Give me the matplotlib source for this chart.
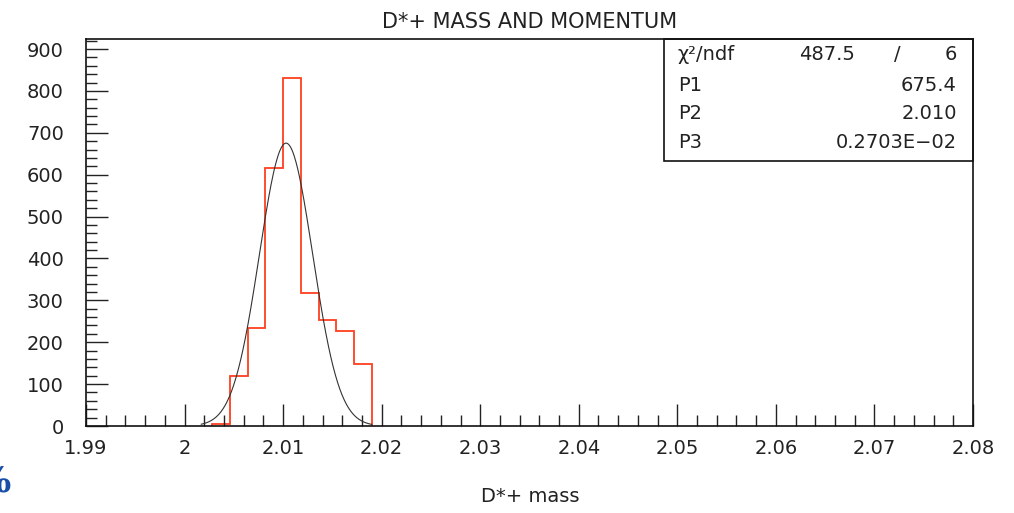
import numpy as np
import matplotlib.pyplot as plt
from matplotlib.patches import Rectangle
from matplotlib.ticker import MultipleLocator

# histogram
bin_edges = [2.0028, 2.0046, 2.0064, 2.0082, 2.0100, 2.0118, 2.0136, 2.0154, 2.0172, 2.0190]
counts = [4, 119, 233, 617, 832, 318, 252, 228, 147]

# gaussian fit parameters (stats box)
p1, p2, p3 = 675.4, 2.0103, 0.002703
fit_range = [2.0017, 2.0190]

xticks = [1.99, 2.0, 2.01, 2.02, 2.03, 2.04, 2.05, 2.06, 2.07, 2.08]
xtick_labels = ["1.99", "2", "2.01", "2.02", "2.03", "2.04", "2.05", "2.06", "2.07", "2.08"]
yticks = [0, 100, 200, 300, 400, 500, 600, 700, 800, 900]

stats_names = ["P1", "P2", "P3"]
stats_values = ["675.4", "2.010", "0.2703E\u221202"]

fig = plt.figure(figsize=(10.14, 5.13), dpi=100)
ax = fig.add_axes([86 / 1014, 87 / 513, 887 / 1014, 387 / 513])

ax.stairs(counts, bin_edges, color="#ff4020", linewidth=1.3)

xf = np.linspace(fit_range[0], fit_range[1], 300)
ax.plot(xf, p1 * np.exp(-0.5 * ((xf - p2) / p3) ** 2), color="#333333", linewidth=0.8)

ax.set_xlim(1.99, 2.08)
ax.set_ylim(0, 924)
ax.set_xticks(xticks)
ax.set_xticklabels(xtick_labels)
ax.set_yticks(yticks)
ax.xaxis.set_minor_locator(MultipleLocator(0.002))
ax.yaxis.set_minor_locator(MultipleLocator(20))
ax.tick_params(which="both", direction="in", top=False, right=False, width=1, colors="#222222")
ax.tick_params(which="major", length=16, labelsize=14)
ax.tick_params(which="minor", length=8)
ax.tick_params(axis="x", pad=9)
ax.tick_params(axis="y", pad=16)
for s in ax.spines.values():
    s.set_linewidth(1.2)
    s.set_color("#111111")

ax.set_title("D*+ MASS AND MOMENTUM", fontsize=15, pad=8, color="#222222")
fig.text(530 / 1014, 1 - 497 / 513, "D*+ mass", fontsize=14, ha="center", va="center", color="#222222")

# stats box
x0 = (664 - 86) / 887
y0 = (426 - 161) / 387
ax.add_patch(Rectangle((x0, y0), 1 - x0, 1 - y0, transform=ax.transAxes,
                       fill=False, edgecolor="#111111", linewidth=1.2, clip_on=False))
rows_y = [(426 - y) / 387 for y in [55, 86, 114, 143]]
tx_left = (678 - 86) / 887
tx_right = (957 - 86) / 887
ax.text(tx_left, rows_y[0], "\u03c7\u00b2/ndf", transform=ax.transAxes, fontsize=14, va="center", color="#222222")
ax.text((827 - 86) / 887, rows_y[0], "487.5", transform=ax.transAxes, fontsize=14, va="center", ha="center", color="#222222")
ax.text((897 - 86) / 887, rows_y[0], "/", transform=ax.transAxes, fontsize=14, va="center", ha="center", color="#222222")
ax.text(tx_right, rows_y[0], "6", transform=ax.transAxes, fontsize=14, va="center", ha="right", color="#222222")
for name, val, yy in zip(stats_names, stats_values, rows_y[1:]):
    ax.text(tx_left, yy, name, transform=ax.transAxes, fontsize=14, va="center", color="#222222")
    ax.text(tx_right, yy, val, transform=ax.transAxes, fontsize=14, va="center", ha="right", color="#222222")

# clipped blue glyph at the bottom-left edge (cut off in the reference too)
fig.text(10 / 1014, 1 - 492 / 513, "%", fontsize=26, family="DejaVu Serif", weight="bold",
         color="#1a4fa8", ha="right", va="baseline")

fig.savefig("out.png", dpi=100)
